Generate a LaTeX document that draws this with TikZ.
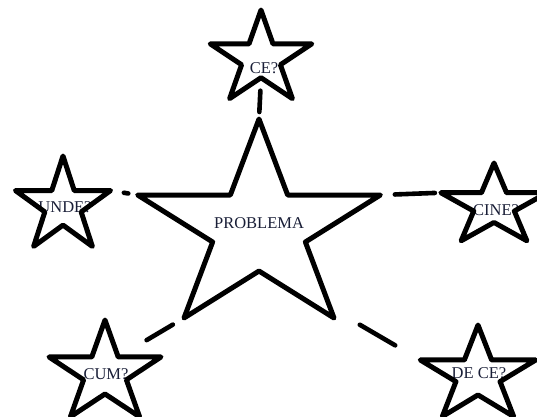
\documentclass[tikz,border=0pt]{standalone}
\usepackage{fontspec}
\setmainfont{Liberation Serif}
\usetikzlibrary{calc}
\definecolor{txt}{RGB}{25,30,55}
\tikzset{
  starline/.style={line width=5pt, line join=round, draw=black},
  conn/.style={line width=4.6pt, line cap=round, draw=black},
  lbl/.style={font=\fontsize{16.5}{19}\selectfont, text=txt, inner sep=0pt},
}
\newcommand\mystar[5]{%
  \begin{scope}[shift={(#2,#3)}, xscale=#5]
    \foreach \i in {0,...,9}{%
      \pgfmathsetmacro\rr{ifthenelse(mod(\i,2)==0, #4, 0.382*#4)}%
      \coordinate (#1-\i) at ({-90+36*\i}:\rr);
    }
  \end{scope}
  \draw[starline] (#1-0) -- (#1-1) -- (#1-2) -- (#1-3) -- (#1-4) -- (#1-5)
    -- (#1-6) -- (#1-7) -- (#1-8) -- (#1-9) -- cycle;
}
\begin{document}
\begin{tikzpicture}[x=1pt, y=-1pt]
  \clip (0,0) rectangle (537,416);
  \fill[white] (0,0) rectangle (537,416);
  % labels
  \node[lbl] (tprob) at (259,223) {PROBLEMA};
  \node[lbl] (tce)   at (264,68)  {CE?};
  \node[lbl] (tunde) at (65,207)  {UNDE?};
  \node[lbl] (tcine) at (496,210) {CINE?};
  \node[lbl] (tcum)  at (106,374) {CUM?};
  \node[lbl] (tdece) at (479,373) {DE CE?};
  % stars
  \mystar{prob}{259}{229}{110}{1.16}
  \mystar{ce}{261}{59}{49}{1.09}
  \mystar{unde}{63}{206}{50}{1.0}
  \mystar{cine}{494}{206}{43}{1.3}
  \mystar{cum}{105}{373.5}{53.5}{1.1}
  \mystar{dece}{478}{375.6}{50.6}{1.2}
  % connectors
  \coordinate (probedge) at ($(prob-3)!0.86!(prob-4)$);
  \draw[conn, shorten <=13pt, shorten >=7pt] (ce-5) -- (prob-0);
  \draw[conn, shorten <=13.5pt, shorten >=9.5pt] (unde-2) -- (prob-8);
  \draw[conn, shorten <=14.5pt, shorten >=6pt] (prob-2) -- (cine-8);
  \draw[conn, shorten <=33pt, shorten >=13pt] (cum-1) -- (prob-6);
  \draw[conn, shorten <=34.5pt, shorten >=29pt] (probedge) -- (dece-8);
\end{tikzpicture}
\end{document}
